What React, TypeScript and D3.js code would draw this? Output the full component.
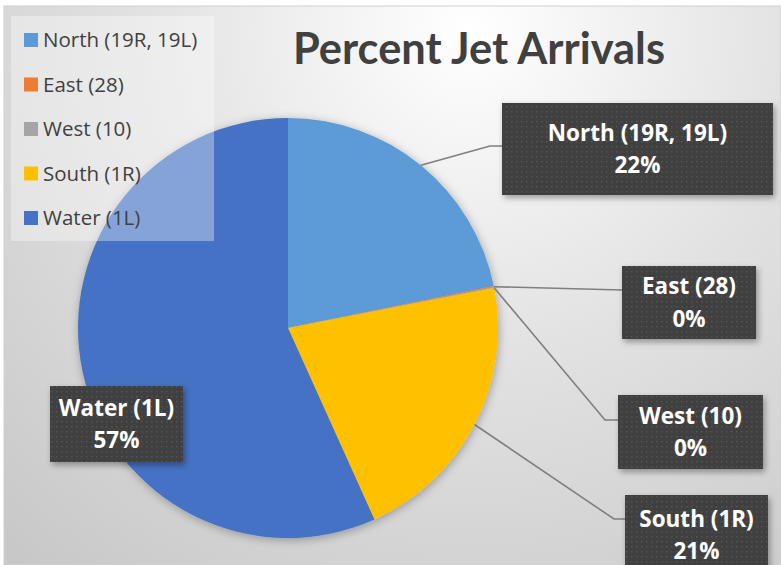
import React from "react";
import * as d3 from "d3";

const categories = ["North (19R, 19L)", "East (28)", "West (10)", "South (1R)", "Water (1L)"];
const percents = [21.8, 0.1, 0.05, 21.3, 56.75];
const colors = ["#5B9BD5", "#ED7D31", "#A5A5A5", "#FFC000", "#4472C4"];
const title = "Percent Jet Arrivals";

// label box layout (positions only)
const boxes = [
  { x: 502, y: 103, w: 271, h: 92, elbow: [490, 146], end: [502, 146] },
  { x: 622, y: 266, w: 134, h: 73, elbow: null, end: [622, 290] },
  { x: 618, y: 395, w: 145, h: 74, elbow: [605, 420], end: [618, 420] },
  { x: 625, y: 495, w: 143, h: 80, elbow: [614, 519], end: [625, 519] },
  { x: 50, y: 386, w: 133, h: 76, elbow: null, end: null },
];

const W = 781;
const H = 565;
const cx = 288;
const cy = 328;
const R = 210;
const TITLE_FONT = "Lato, 'Noto Sans', sans-serif";
const FONT = "'Open Sans', 'Noto Sans', sans-serif";

export default function App() {
  const pie = d3.pie<number>().sort(null).value((d) => d).startAngle(0).endAngle(2 * Math.PI);
  const arcs = pie(percents);
  const arc = d3.arc<d3.PieArcDatum<number>>().innerRadius(0).outerRadius(R);
  const pct = d3.format(".0f");

  return (
    <div style={{ position: "absolute", left: 0, top: 0 }}>
      <svg width={W} height={H} style={{ display: "block" }}>
        <defs>
          <radialGradient id="bg" gradientUnits="userSpaceOnUse" cx={470} cy={30} r={720}>
            <stop offset="0" stopColor="#ffffff" />
            <stop offset="0.45" stopColor="#e2e2e2" />
            <stop offset="1" stopColor="#c6c6c6" />
          </radialGradient>
          <pattern id="dots" width={5} height={5} patternUnits="userSpaceOnUse">
            <rect width={5} height={5} fill="#404040" />
            <rect x={1} y={1} width={1.4} height={1.4} fill="#575757" />
          </pattern>
          <filter id="shadow" x="-20%" y="-20%" width="140%" height="140%">
            <feDropShadow dx={2} dy={3} stdDeviation={3} floodColor="#000" floodOpacity={0.35} />
          </filter>
          <filter id="pieShadow" x="-20%" y="-20%" width="140%" height="140%">
            <feDropShadow dx={1} dy={2} stdDeviation={5} floodColor="#000" floodOpacity={0.3} />
          </filter>
        </defs>
        <rect x={0} y={0} width={W} height={H} fill="#ffffff" />
        <rect x={4} y={6} width={W - 4} height={H - 6} fill="url(#bg)" stroke="#d0d0d0" strokeWidth={1} />
        <text x={479} y={64} textAnchor="middle" fontFamily={TITLE_FONT} fontWeight={700} fontSize={43}
          fill="#404040" textLength={372} lengthAdjust="spacingAndGlyphs">{title}</text>

        <g transform={`translate(${cx},${cy})`} filter="url(#pieShadow)">
          {arcs.map((a, i) => (
            <path key={i} d={arc(a) || ""} fill={colors[i]} />
          ))}
        </g>

        {/* leader lines */}
        <g stroke="#7f7f7f" strokeWidth={1.6} fill="none">
          {arcs.map((a, i) => {
            const b = boxes[i];
            if (!b.end) return null;
            const mid = (a.startAngle + a.endAngle) / 2;
            const sx = cx + R * Math.sin(mid);
            const sy = cy - R * Math.cos(mid);
            const pts: number[][] = [[sx, sy]];
            if (b.elbow) pts.push(b.elbow);
            pts.push(b.end);
            return <path key={i} d={d3.line()(pts as [number, number][]) || ""} />;
          })}
        </g>

        {/* legend */}
        <rect x={11} y={16} width={203} height={225} fill="#ffffff" fillOpacity={0.35} />
        {categories.map((c, i) => {
          const y = 40 + i * 44.5;
          return (
            <g key={c}>
              <rect x={24} y={y - 7} width={14} height={14} fill={colors[i]} />
              <text x={43} y={y + 7} fontFamily={FONT} fontSize={20.5} fill="#404040">{c}</text>
            </g>
          );
        })}

        {/* data labels */}
        {categories.map((c, i) => {
          const b = boxes[i];
          const mx = b.x + b.w / 2;
          const my = b.y + b.h / 2;
          return (
            <g key={c}>
              <rect x={b.x} y={b.y} width={b.w} height={b.h} fill="url(#dots)" filter="url(#shadow)" />
              <text x={mx} y={my - 8.5} textAnchor="middle" fontFamily={FONT} fontWeight={700}
                fontSize={22.5} fill="#ffffff">{c}</text>
              <text x={mx} y={my + 24} textAnchor="middle" fontFamily={FONT} fontWeight={700}
                fontSize={22.5} fill="#ffffff">{pct(percents[i])}%</text>
            </g>
          );
        })}
      </svg>
    </div>
  );
}
